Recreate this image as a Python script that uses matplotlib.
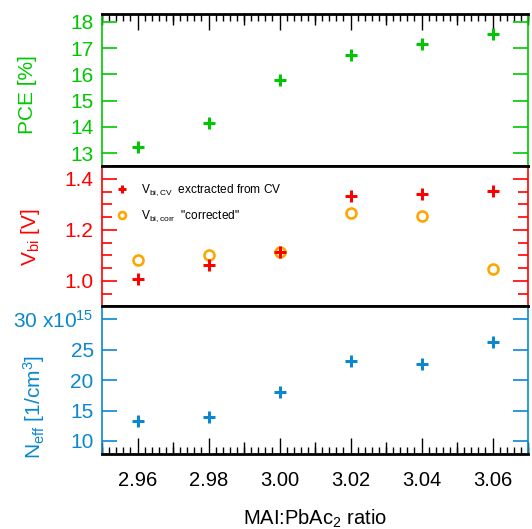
import matplotlib
matplotlib.use("Agg")
import matplotlib.pyplot as plt
from matplotlib.ticker import MultipleLocator, FixedLocator, NullFormatter, FuncFormatter

plt.rcParams['font.family'] = ['Liberation Sans', 'DejaVu Sans']
plt.rcParams['mathtext.default'] = 'regular'

ratio = [2.96, 2.98, 3.00, 3.02, 3.04, 3.06]
pce = [13.24, 14.13, 15.80, 16.75, 17.14, 17.54]
vbi_cv = [1.008, 1.062, 1.113, 1.335, 1.340, 1.354]
vbi_corr = [1.082, 1.101, 1.113, 1.267, 1.254, 1.046]
neff = [13.3e15, 13.95e15, 18.07e15, 23.13e15, 22.58e15, 26.3e15]

GREEN = '#00C800'
RED = '#FF0000'
BLUE = '#0A88CF'
ORANGE = '#FFA500'

W, H = 532, 529
fig = plt.figure(figsize=(W / 100, H / 100), dpi=100)

left = 102 / W
width = (528 - 102) / W
def fy(p):
    return 1 - p / H

ax1 = fig.add_axes([left, fy(165.7), width, fy(13.5) - fy(165.7)])
ax2 = fig.add_axes([left, fy(305.7), width, fy(165.7) - fy(305.7)], sharex=ax1)
ax3 = fig.add_axes([left, fy(454.3), width, fy(305.7) - fy(454.3)], sharex=ax1)

px = 72 / 100  # points per pixel

# data
ax1.plot(ratio, pce, linestyle='none', marker='+', color=GREEN, ms=12 * px, mew=3 * px)
ax2.plot(ratio, vbi_corr, linestyle='none', marker='o', mfc='none', mec=ORANGE,
         ms=10 * px, mew=2.6 * px, label=r'V$_{bi,corr}$  "corrected"')
ax2.plot(ratio, vbi_cv, linestyle='none', marker='+', color=RED, ms=12 * px, mew=3 * px,
         label=r'V$_{bi,CV}$  exctracted from CV')
ax3.plot(ratio, [v / 1e15 for v in neff], linestyle='none', marker='+', color=BLUE,
         ms=12 * px, mew=3 * px)

ax1.set_xlim(2.95, 3.07)
ax1.set_ylim(12.52, 18.32)
ax2.set_ylim(0.903, 1.452)
ax3.set_ylim(7.81, 32.24)

for ax, col in [(ax1, GREEN), (ax2, RED), (ax3, BLUE)]:
    ax.spines['left'].set_color(col)
    ax.spines['right'].set_color(col)
    ax.spines['left'].set_linewidth(1.2)
    ax.spines['right'].set_linewidth(1.2)
    ax.spines['top'].set_color('black')
    ax.spines['bottom'].set_color('black')
    ax.spines['top'].set_linewidth(2.0)
    ax.spines['bottom'].set_linewidth(2.0)
    ax.tick_params(axis='y', which='both', direction='in', left=True, right=True,
                   colors=col, labelcolor=col, labelsize=15, width=1.2, pad=6)
    ax.tick_params(axis='y', which='major', length=15 * px)
    ax.tick_params(axis='y', which='minor', length=10 * px)
    ax.set_zorder(1)

# y ticks
ax1.yaxis.set_major_locator(MultipleLocator(1))
ax2.yaxis.set_major_locator(MultipleLocator(0.2))
ax2.yaxis.set_minor_locator(MultipleLocator(0.05))
ax2.yaxis.set_major_formatter(FuncFormatter(lambda v, p: f"{v:.1f}"))
ax3.yaxis.set_major_locator(MultipleLocator(5))
ax3.yaxis.set_major_formatter(FuncFormatter(
    lambda v, p: (r"30 x10$^{15}$" if abs(v - 30) < 1e-6 else f"{v:.0f}")))

# x ticks
ax1.xaxis.set_major_locator(MultipleLocator(0.02))
ax1.xaxis.set_minor_locator(MultipleLocator(0.002))
ax1.xaxis.set_major_formatter(FuncFormatter(lambda v, p: f"{v:.2f}"))
for ax in (ax1, ax2, ax3):
    ax.tick_params(axis='x', which='both', direction='in', top=False, bottom=False,
                   labeltop=False, labelbottom=False, colors='black', width=1.0)
ax1.tick_params(axis='x', which='both', top=True)
ax3.tick_params(axis='x', which='both', bottom=True, labelbottom=True, labelsize=14.5, pad=12)
for ax in (ax1, ax3):
    ax.tick_params(axis='x', which='major', length=16 * px)
    ax.tick_params(axis='x', which='minor', length=7 * px)

# medium ticks at odd hundredths
mid_ticks = [2.95, 2.97, 2.99, 3.01, 3.03, 3.05, 3.07]
for ax, side in [(ax1, 'top'), (ax3, 'bottom')]:
    sec = ax.secondary_xaxis(side)
    sec.xaxis.set_major_locator(FixedLocator(mid_ticks))
    sec.xaxis.set_minor_locator(FixedLocator([]))
    sec.xaxis.set_major_formatter(NullFormatter())
    sec.tick_params(axis='x', which='major', direction='in', length=12 * px, width=1.0, colors='black')
    sec.spines[side].set_visible(False)

# labels
ax1.set_ylabel('PCE [%]', color=GREEN, fontsize=15)
ax1.yaxis.set_label_coords(-0.153, 0.465)
ax2.set_ylabel(r'V$_{bi}$ [V]', color=RED, fontsize=15)
ax2.yaxis.set_label_coords(-0.141, 0.487)
ax3.set_ylabel(r'N$_{eff}$ [1/cm$^3$]', color=BLUE, fontsize=15)
ax3.yaxis.set_label_coords(-0.129, 0.318)
ax3.set_xlabel(r'MAI:PbAc$_2$ ratio', fontsize=14.5, labelpad=13)

# legend
h, l = ax2.get_legend_handles_labels()
leg = ax2.legend([h[1], h[0]], [l[1], l[0]], loc='upper left', frameon=False, fontsize=8.6,
                 markerscale=0.7, handlelength=0.8, handletextpad=1.2,
                 labelspacing=0.85, borderaxespad=0.6, bbox_to_anchor=(0.008, 0.965))

fig.savefig('out.png', dpi=100)
